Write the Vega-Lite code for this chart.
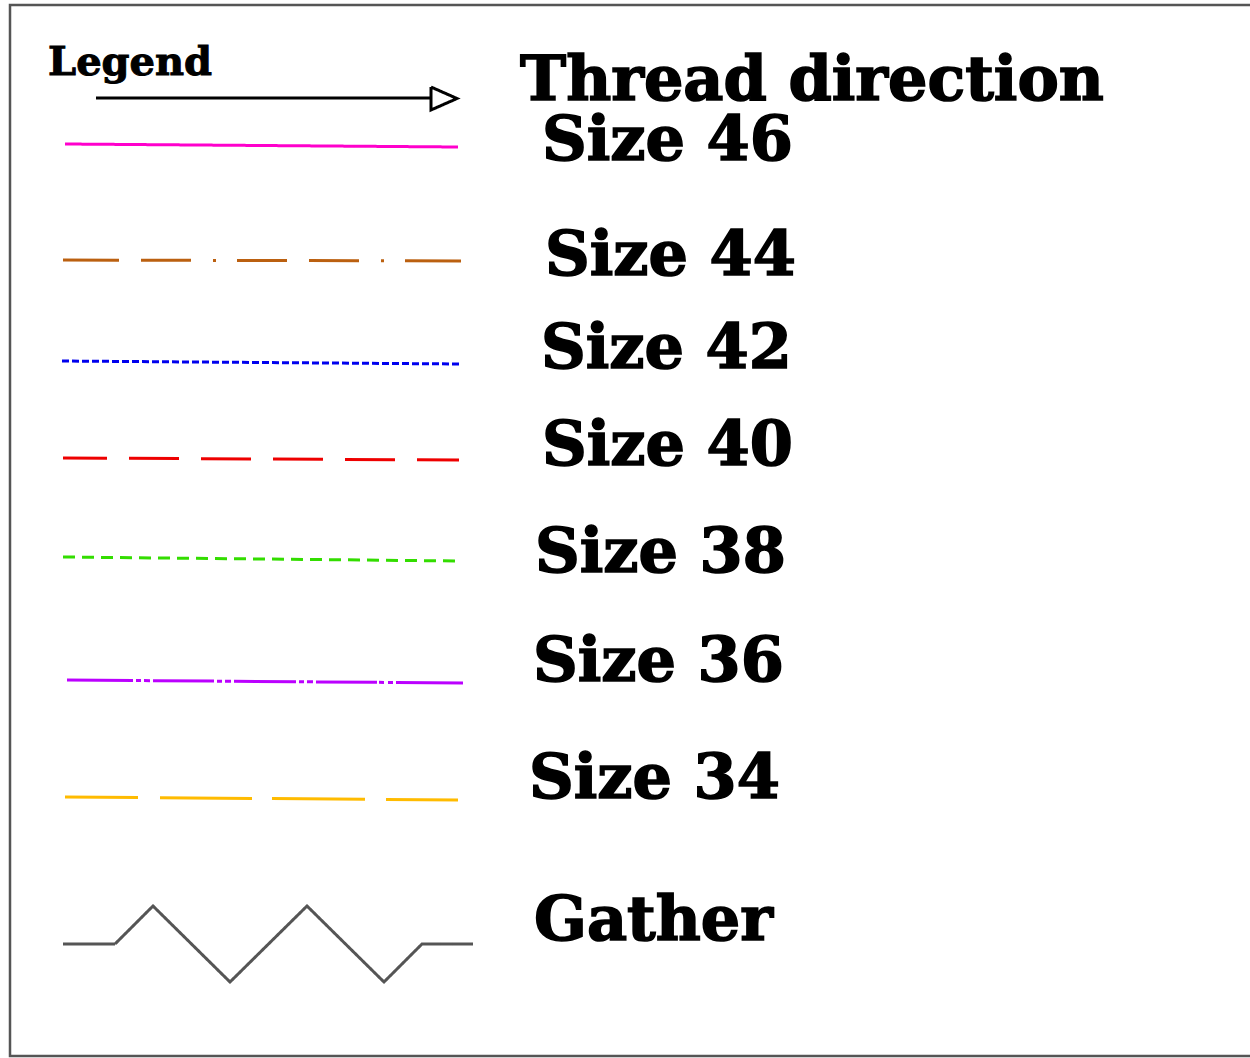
{
  "$schema": "https://vega.github.io/schema/vega-lite/v6.json",
  "width": 1250,
  "height": 1058,
  "autosize": {"type": "none"},
  "padding": 0,
  "background": "white",
  "config": {"view": {"stroke": null}},
  "datasets": {
    "frame": [
      {"x": 1270, "y": 5, "ord": 1},
      {"x": 10, "y": 5, "ord": 2},
      {"x": 10, "y": 1056, "ord": 3},
      {"x": 1270, "y": 1056, "ord": 4}
    ],
    "lines": [
      {"series": "arrow", "x": 96, "y": 98, "ord": 1},
      {"series": "arrow", "x": 431, "y": 98, "ord": 2},
      {"series": "arrowhead", "x": 431, "y": 87, "ord": 1},
      {"series": "arrowhead", "x": 457, "y": 98.5, "ord": 2},
      {"series": "arrowhead", "x": 431, "y": 110, "ord": 3},
      {"series": "arrowhead", "x": 431, "y": 87, "ord": 4},
      {"series": "Size 46", "x": 65, "y": 144, "ord": 1},
      {"series": "Size 46", "x": 458, "y": 147, "ord": 2},
      {"series": "Size 44", "x": 63, "y": 260, "ord": 1},
      {"series": "Size 44", "x": 461, "y": 261, "ord": 2},
      {"series": "Size 42", "x": 62, "y": 361, "ord": 1},
      {"series": "Size 42", "x": 460, "y": 364, "ord": 2},
      {"series": "Size 40", "x": 63, "y": 458, "ord": 1},
      {"series": "Size 40", "x": 459, "y": 460, "ord": 2},
      {"series": "Size 38", "x": 63, "y": 557, "ord": 1},
      {"series": "Size 38", "x": 460, "y": 561, "ord": 2},
      {"series": "Size 36", "x": 67, "y": 680, "ord": 1},
      {"series": "Size 36", "x": 463, "y": 683, "ord": 2},
      {"series": "Size 34", "x": 65, "y": 797, "ord": 1},
      {"series": "Size 34", "x": 458, "y": 800, "ord": 2},
      {"series": "Gather", "x": 63, "y": 944, "ord": 1},
      {"series": "Gather", "x": 115, "y": 944, "ord": 2},
      {"series": "Gather", "x": 153, "y": 906, "ord": 3},
      {"series": "Gather", "x": 230, "y": 982, "ord": 4},
      {"series": "Gather", "x": 307, "y": 906, "ord": 5},
      {"series": "Gather", "x": 384, "y": 982, "ord": 6},
      {"series": "Gather", "x": 422, "y": 944, "ord": 7},
      {"series": "Gather", "x": 473, "y": 944, "ord": 8}
    ],
    "labels": [
      {"label": "Thread direction", "x": 520, "y": 100},
      {"label": "Size 46", "x": 542, "y": 160},
      {"label": "Size 44", "x": 545, "y": 275},
      {"label": "Size 42", "x": 541, "y": 368},
      {"label": "Size 40", "x": 542, "y": 465},
      {"label": "Size 38", "x": 535, "y": 572},
      {"label": "Size 36", "x": 533, "y": 681},
      {"label": "Size 34", "x": 529, "y": 798},
      {"label": "Gather", "x": 534, "y": 940}
    ],
    "heading": [{"label": "Legend", "x": 48, "y": 75}]
  },
  "encoding": {
    "x": {"field": "x", "type": "quantitative", "scale": {"domain": [0, 1250], "nice": false, "zero": false}, "axis": null},
    "y": {"field": "y", "type": "quantitative", "scale": {"domain": [0, 1058], "nice": false, "zero": false, "reverse": true}, "axis": null}
  },
  "layer": [
    {
      "data": {"name": "frame"},
      "mark": {"type": "line", "color": "#555555", "strokeWidth": 2.5, "strokeCap": "butt", "strokeJoin": "miter", "clip": false},
      "encoding": {
        "order": {"field": "ord", "type": "quantitative"}
      }
    },
    {
      "data": {"name": "lines"},
      "mark": {"type": "line", "strokeWidth": 3, "strokeCap": "butt", "strokeJoin": "miter"},
      "encoding": {
        "detail": {"field": "series", "type": "nominal"},
        "order": {"field": "ord", "type": "quantitative"},
        "color": {
          "field": "series", "type": "nominal", "legend": null,
          "scale": {
            "domain": ["arrow", "arrowhead", "Size 46", "Size 44", "Size 42", "Size 40", "Size 38", "Size 36", "Size 34", "Gather"],
            "range": ["#000000", "#000000", "#ff00cc", "#bb6010", "#0000ee", "#ee0000", "#33dd00", "#bb00ff", "#ffbb00", "#555555"]
          }
        },
        "strokeDash": {
          "field": "series", "type": "nominal", "legend": null,
          "scale": {
            "domain": ["arrow", "arrowhead", "Size 46", "Size 44", "Size 42", "Size 40", "Size 38", "Size 36", "Size 34", "Gather"],
            "range": [
              [1, 0],
              [1, 0],
              [1, 0],
              [56, 22, 50, 22, 3, 21, 50, 22, 50, 22, 3, 21, 56],
              [7, 3],
              [44, 22, 50, 22, 50, 22, 50, 22, 50, 22, 50],
              [12, 7],
              [66, 3, 5, 3, 6, 3, 61, 3, 5, 3, 6, 3, 62, 3, 5, 3, 6, 3, 61, 2, 5, 4, 5, 3, 67],
              [73, 22, 92, 20, 93, 21, 80],
              [1, 0]
            ]
          }
        }
      }
    },
    {
      "data": {"name": "labels"},
      "mark": {"type": "text", "align": "left", "baseline": "alphabetic", "font": "DejaVu Serif", "fontWeight": "bold", "fontSize": 62, "color": "#000000", "stroke": "#000000", "strokeWidth": 1.6},
      "encoding": {"text": {"field": "label"}}
    },
    {
      "data": {"name": "heading"},
      "mark": {"type": "text", "align": "left", "baseline": "alphabetic", "font": "DejaVu Serif", "fontWeight": "bold", "fontSize": 40, "color": "#000000", "stroke": "#000000", "strokeWidth": 1},
      "encoding": {"text": {"field": "label"}}
    }
  ]
}
